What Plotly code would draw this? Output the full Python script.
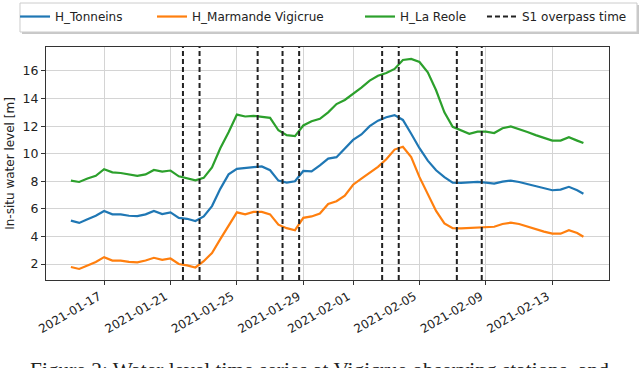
import pandas as pd
import plotly.graph_objects as go

# sampling grid: every 12 h from 15 Jan, last sample on 14 Feb evening
times = list(pd.date_range("2021-01-15 00:00", "2021-02-14 12:00", freq="12h")) + [pd.Timestamp("2021-02-14 21:00")]

h_tonneins = [5.15, 4.98, 5.25, 5.5, 5.85, 5.6, 5.6, 5.5, 5.48, 5.6, 5.85, 5.62, 5.75, 5.35, 5.28, 5.12,
              5.45, 6.2, 7.45, 8.5, 8.9, 8.95, 9.05, 9.08, 8.8, 8.05, 7.9, 8.0, 8.75, 8.72, 9.16, 9.65,
              9.75, 10.35, 11.0, 11.4, 12.0, 12.4, 12.65, 12.8, 12.45, 11.45, 10.4, 9.5, 8.8, 8.3, 7.9,
              7.88, 7.9, 7.95, 7.9, 7.83, 7.98, 8.05, 7.95, 7.8, 7.6, 7.45, 7.35, 7.4, 7.6, 7.35, 7.1]
h_marmande = [1.78, 1.64, 1.9, 2.15, 2.5, 2.25, 2.25, 2.15, 2.12, 2.25, 2.45, 2.3, 2.4, 2.0, 1.9, 1.75,
              2.2, 2.8, 3.8, 4.75, 5.75, 5.6, 5.78, 5.78, 5.6, 4.85, 4.6, 4.45, 5.35, 5.45, 5.66, 6.35,
              6.55, 6.95, 7.75, 8.2, 8.65, 9.05, 9.6, 10.3, 10.5, 9.75, 8.3, 7.1, 5.85, 4.95, 4.6,
              4.58, 4.6, 4.62, 4.65, 4.7, 4.9, 5.0, 4.9, 4.7, 4.5, 4.35, 4.2, 4.2, 4.45, 4.25, 3.98]
h_lareole = [8.05, 7.95, 8.2, 8.4, 8.88, 8.65, 8.6, 8.5, 8.4, 8.5, 8.82, 8.7, 8.78, 8.36, 8.2, 8.07,
             8.25, 9.0, 10.4, 11.55, 12.84, 12.7, 12.75, 12.7, 12.6, 11.7, 11.35, 11.28, 12.05, 12.35, 12.53, 13.0,
             13.6, 13.9, 14.34, 14.8, 15.3, 15.65, 15.85, 16.15, 16.8, 16.87, 16.65, 15.9, 14.6, 13.0, 11.95,
             11.7, 11.45, 11.6, 11.6, 11.5, 11.85, 11.98, 11.8, 11.57, 11.35, 11.15, 10.95, 10.95, 11.2, 10.95, 10.77]

s1_times = ["2021-01-21 18:00", "2021-01-22 18:00", "2021-01-26 06:00", "2021-01-27 18:00",
            "2021-01-28 18:00", "2021-02-02 18:00", "2021-02-03 18:00", "2021-02-07 06:00",
            "2021-02-08 18:00"]

tick_dates = ["2021-01-17", "2021-01-21", "2021-01-25", "2021-01-29",
              "2021-02-01", "2021-02-05", "2021-02-09", "2021-02-13"]

FONT = "DejaVu Sans"
dash = "5px,3px"

fig = go.Figure()
fig.add_trace(go.Scatter(x=times, y=h_tonneins, mode="lines", name="H_Tonneins", legend="legend",
                         line=dict(color="#1f77b4", width=2.2)))
fig.add_trace(go.Scatter(x=times, y=h_marmande, mode="lines", name="H_Marmande Vigicrue", legend="legend2",
                         line=dict(color="#ff7f0e", width=2.2)))
fig.add_trace(go.Scatter(x=times, y=h_lareole, mode="lines", name="H_La Reole", legend="legend3",
                         line=dict(color="#2ca02c", width=2.2)))
# legend entry for the overpass lines
fig.add_trace(go.Scatter(x=[None], y=[None], mode="lines", name="S1 overpass time", legend="legend4",
                         line=dict(color="#222222", width=2, dash=dash)))

for t in s1_times:
    fig.add_shape(type="line", xref="x", yref="paper", x0=t, x1=t, y0=0, y1=1,
                  line=dict(color="#222222", width=2, dash=dash), layer="above")

# legend frame (one box around the four entries)
fig.add_shape(type="rect", xref="paper", yref="paper", x0=-0.0426, x1=1.0533, y0=1.0558, y1=1.1803,
              fillcolor="#c8c8c8", line=dict(width=0), layer="above")
fig.add_shape(type="rect", xref="paper", yref="paper", x0=-0.0462, x1=1.0497, y0=1.0644, y1=1.1888,
              fillcolor="white", line=dict(color="#cccccc", width=1), layer="above")

fig.add_annotation(text="Figure 2: Water level time series at Vigicrue observing stations, and",
                   xref="paper", yref="paper", x=-0.032, y=-0.325, xanchor="left", yanchor="top",
                   showarrow=False, font=dict(family="Liberation Serif", size=21.4, color="#222222"))

leg = dict(orientation="h", xanchor="left", yanchor="top", y=1.193, borderwidth=0,
           bgcolor="rgba(0,0,0,0)", font=dict(family=FONT, size=12), itemwidth=30)

fig.update_layout(
    width=640, height=368,
    margin=dict(l=46, r=31, t=47, b=88, autoexpand=False),
    paper_bgcolor="white", plot_bgcolor="white",
    font=dict(family=FONT, size=12, color="#222222"),
    showlegend=True,
    legend=dict(leg, x=-0.055),
    legend2=dict(leg, x=0.1883),
    legend3=dict(leg, x=0.5577),
    legend4=dict(leg, x=0.7744),
)
fig.update_xaxes(range=["2021-01-13 12:00", "2021-02-16 10:00"], tickvals=tick_dates,
                 ticktext=tick_dates, tickangle=-30, ticks="outside", ticklen=4,
                 tickcolor="#333333", showline=True, mirror=True, linecolor="#333333",
                 linewidth=1, showgrid=True, gridcolor="#d4d4d4", gridwidth=1, ticklabelshift=-5,
                 tickfont=dict(size=12), zeroline=False, automargin=False)
fig.update_yaxes(range=[0.84, 17.74], tickvals=[2, 4, 6, 8, 10, 12, 14, 16], ticks="outside",
                 ticklen=4, tickcolor="#333333", showline=True, mirror=True, linecolor="#333333",
                 linewidth=1, showgrid=True, gridcolor="#d4d4d4", gridwidth=1,
                 title=dict(text="In-situ water level [m]", standoff=5, font=dict(size=12)),
                 tickfont=dict(size=12.5), zeroline=False, automargin=False)

# page body has a default 8px margin; drop it so the figure sits at the window corner
fig.write_html("out.html", config={"displayModeBar": False},
               post_script="document.body.style.margin='0px';")
